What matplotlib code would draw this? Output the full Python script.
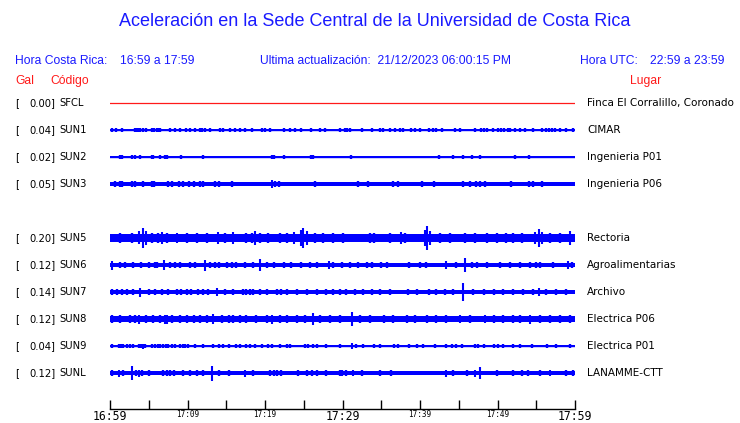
import matplotlib
matplotlib.use('Agg')
import matplotlib.pyplot as plt
import matplotlib.transforms as mtransforms

# station table
codes = ['SFCL', 'SUN1', 'SUN2', 'SUN3', 'SUN5', 'SUN6', 'SUN7', 'SUN8', 'SUN9', 'SUNL']
rows = [0, 1, 2, 3, 5, 6, 7, 8, 9, 10]
gal = [0.00, 0.04, 0.02, 0.05, 0.20, 0.12, 0.14, 0.12, 0.04, 0.12]
places = ['Finca El Corralillo, Coronado', 'CIMAR', 'Ingenieria P01', 'Ingenieria P06',
          'Rectoria', 'Agroalimentarias', 'Archivo', 'Electrica P06', 'Electrica P01',
          'LANAMME-CTT']

# trace envelope (px): continuous band half width and usual burst half height
base_amp = [0.0, 0.6, 0.6, 1.7, 3.6, 1.7, 2.0, 2.6, 0.6, 2.2]
blip_amp = [0.0, 1.7, 1.6, 2.6, 5.0, 3.0, 3.0, 3.6, 2.0, 3.0]

# minutes after 16:59 of the small bursts
blip_t = {
    'SUN1': [0.2, 0.8, 1.5, 3.2, 3.4, 3.6, 3.9, 4.2, 4.7, 5.4, 5.7, 6.0, 6.3, 6.5, 7.7, 8.4,
             9.0, 9.8, 10.3, 11.0, 11.6, 11.9, 12.3, 12.9, 14.2, 14.6, 15.5, 16.1, 16.8, 17.4,
             18.3, 19.6, 20.0, 20.7, 22.4, 23.2, 23.9, 24.7, 25.9, 27.1, 27.7, 29.7, 30.3,
             30.6, 31.0, 32.5, 33.8, 34.8, 35.2, 36.1, 36.8, 37.4, 37.8, 38.9, 39.3, 40.0,
             41.1, 41.7, 42.1, 42.8, 44.5, 45.2, 47.1, 47.9, 48.3, 48.7, 49.4, 50.1, 50.5,
             50.9, 51.3, 51.6, 52.2, 52.9, 53.5, 54.6, 55.7, 56.3, 56.7, 57.0, 57.4, 58.1,
             58.9, 59.8],
    'SUN2': [1.3, 1.6, 2.9, 3.2, 3.9, 5.4, 5.6, 6.4, 7.1, 7.3, 9.2, 12.0, 20.9, 21.2, 22.4,
             25.9, 26.2, 31.1, 42.5, 44.3, 45.6, 46.7, 47.7, 52.2, 54.0],
    'SUN3': [0.6, 1.3, 1.5, 2.9, 3.2, 4.2, 5.4, 5.7, 7.5, 8.0, 8.9, 9.4, 10.2, 10.9, 11.6,
             12.0, 13.5, 14.0, 15.7, 21.3, 21.8, 26.4, 32.0, 33.3, 36.5, 37.2, 40.3, 41.8,
             45.6, 46.5, 47.2, 47.7, 48.4, 51.8, 54.0, 54.6, 55.7],
    'SUN5': [1.3, 2.8, 5.4, 6.2, 7.3, 9.9, 11.2, 12.5, 14.8, 17.6, 18.3, 19.3, 20.4, 21.9,
             22.8, 26.4, 27.5, 28.8, 30.1, 33.5, 34.0, 36.1, 38.1, 42.6, 43.9, 45.8, 47.1,
             48.6, 49.9, 51.1, 52.0, 53.1, 56.8, 58.0],
    'SUN6': [1.3, 1.9, 3.0, 4.0, 5.0, 5.8, 6.0, 7.7, 8.4, 9.0, 10.3, 11.0, 12.9, 13.5, 14.0,
             15.1, 15.7, 16.3, 17.4, 18.5, 20.2, 21.1, 22.4, 23.3, 24.7, 25.8, 26.7, 28.8,
             29.9, 31.0, 32.0, 33.1, 33.8, 35.0, 35.7, 38.6, 40.0, 40.8, 44.7, 46.7, 47.3,
             48.6, 50.3, 51.6, 52.9, 54.2, 55.0, 55.5, 57.2, 59.6],
    'SUN7': [0.2, 0.9, 1.5, 2.2, 3.0, 5.0, 5.8, 6.7, 7.5, 8.6, 9.2, 9.9, 10.5, 11.4, 12.0,
             12.7, 14.8, 15.9, 17.2, 17.6, 18.1, 18.5, 19.4, 20.2, 21.5, 22.1, 22.8, 24.1,
             25.4, 26.7, 27.9, 28.8, 29.7, 30.5, 31.6, 32.7, 33.8, 34.8, 36.1, 38.5, 39.6,
             41.1, 42.1, 43.2, 44.3, 46.9, 48.2, 49.5, 50.7, 52.0, 53.3, 54.6, 56.3, 57.6,
             58.9],
    'SUN8': [0.2, 1.3, 2.6, 3.2, 4.7, 5.6, 6.5, 8.0, 9.0, 9.9, 10.8, 11.6, 12.5, 14.4, 15.3,
             15.9, 16.8, 17.6, 18.9, 20.2, 21.9, 22.8, 24.1, 25.2, 27.1, 28.4, 29.7, 32.2,
             33.5, 35.3, 36.5, 38.3, 39.3, 40.9, 42.1, 43.4, 46.4, 49.5, 50.7, 52.0, 52.9,
             55.5, 56.8, 58.1, 59.3],
    'SUN9': [0.2, 1.1, 1.4, 1.7, 2.2, 2.6, 3.0, 3.7, 4.0, 4.5, 5.4, 5.8, 6.2, 6.5, 6.9, 7.2,
             7.5, 8.0, 8.4, 9.0, 9.4, 9.7, 10.0, 11.0, 12.0, 13.3, 14.0, 14.6, 15.3, 16.3,
             16.8, 17.6, 18.0, 18.7, 19.6, 20.4, 20.9, 21.9, 22.8, 23.2, 25.2, 25.6, 26.2,
             26.7, 27.9, 29.7, 31.8, 32.7, 34.0, 34.8, 36.6, 37.2, 38.6, 39.6, 40.4, 41.9,
             43.4, 44.1, 44.7, 45.4, 47.1, 47.5, 48.2, 49.5, 50.1, 50.7, 52.0, 52.9, 54.4,
             56.4, 57.6, 59.3],
    'SUNL': [0.2, 1.7, 3.4, 4.1, 5.0, 6.9, 7.3, 7.7, 8.3, 9.4, 10.3, 11.2, 12.0, 14.0, 15.3,
             18.5, 20.6, 21.1, 21.5, 22.1, 24.3, 25.4, 26.0, 26.7, 27.9, 29.7, 29.9, 30.5,
             32.5, 34.8, 36.3, 44.3, 46.0, 49.9, 52.0, 53.1, 53.9, 55.5, 58.9, 59.8],
}

# larger events: minute and half height (px)
peak_t = {
    'SUN1': [11.9],
    'SUN2': [],
    'SUN3': [20.9],
    'SUN5': [3.7, 4.3, 4.7, 6.7, 8.7, 13.9, 15.9, 18.7, 23.8, 24.6, 24.9, 25.4, 37.6, 40.6,
             40.9, 41.3, 54.8, 55.3, 55.7, 59.3],
    'SUN6': [0.2, 7.0, 12.2, 19.4, 28.3, 43.4, 45.8, 59.1],
    'SUN7': [3.9, 13.8, 45.6, 55.3],
    'SUN8': [3.8, 7.1, 7.3, 13.3, 20.9, 26.2, 31.2, 45.2, 48.4, 54.2],
    'SUN9': [4.2, 31.2],
    'SUNL': [1.1, 2.9, 3.8, 13.2, 17.4, 31.3, 43.4, 47.1, 47.8, 56.8],
}
peak_a = {
    'SUN1': [2.3],
    'SUN2': [],
    'SUN3': [4.0],
    'SUN5': [6.5, 9.5, 7.0, 6.0, 5.5, 6.0, 6.0, 7.0, 6.0, 8.0, 9.5, 7.0, 6.0, 8.0,
             12.3, 7.0, 6.0, 8.7, 6.0, 7.0],
    'SUN6': [4.5, 5.0, 5.5, 6.0, 4.0, 4.0, 7.0, 4.0],
    'SUN7': [4.5, 4.0, 8.7, 4.0],
    'SUN8': [4.5, 4.5, 4.5, 5.0, 4.5, 6.0, 7.0, 4.0, 4.0, 4.5],
    'SUN9': [2.5, 3.0],
    'SUNL': [3.5, 7.0, 3.5, 7.5, 3.5, 3.0, 3.5, 3.5, 6.0, 3.0],
}

hdr_blue = '#1a1aff'
trace_blue = '#0000ff'
red = '#ff1a1a'

fig = plt.figure(figsize=(7.4, 4.23), dpi=100)
W, H = 740., 423.
PX = 27.  # pixels per row

ax = fig.add_axes([110 / W, 1 - 386.5 / H, 465 / W, 297 / H])
ax.set_xlim(0, 60)
ax.set_ylim(10.5, -0.5)
ax.axis('off')

for code, r, b, bl in zip(codes, rows, base_amp, blip_amp):
    if code == 'SFCL':
        ax.plot([0, 60], [r, r], color=red, lw=0.9)
        continue
    ax.fill_between([0, 60], r - b / PX, r + b / PX, color=trace_blue, lw=0)
    ax.plot([0, 60], [r, r], color=trace_blue, lw=1.0)
    ax.vlines(blip_t[code], r - bl / PX, r + bl / PX, color=trace_blue, lw=1.7)
    pt = peak_t.get(code, [])
    pa = [a / PX for a in peak_a.get(code, [])]
    if pt:
        ax.vlines(pt, [r - a for a in pa], [r + a for a in pa], color=trace_blue, lw=1.5)

# station labels
tr = mtransforms.blended_transform_factory(fig.transFigure, ax.transData)
for code, r, g, p in zip(codes, rows, gal, places):
    ax.text(15 / W, r, '[', transform=tr, fontsize=7.2, va='center', ha='left',
            family='DejaVu Sans')
    ax.text(55.5 / W, r, '%.2f]' % g, transform=tr, fontsize=7.2, va='center', ha='right',
            family='DejaVu Sans')
    ax.text(59 / W, r, code, transform=tr, fontsize=7.2, va='center', ha='left',
            family='DejaVu Sans')
    ax.text(587 / W, r, p, transform=tr, fontsize=7.5, va='center', ha='left',
            family='DejaVu Sans')

# header
hfont = 'Liberation Sans'
fig.text(375 / W, 1 - 22 / H, 'Aceleración en la Sede Central de la Universidad de Costa Rica',
         ha='center', va='center', color=hdr_blue, fontsize=13, family=hfont)
fig.text(15 / W, 1 - 61 / H, 'Hora Costa Rica:', ha='left', va='center', color=hdr_blue,
         fontsize=8.7, family=hfont)
fig.text(120.5 / W, 1 - 61 / H, '16:59 a 17:59', ha='left', va='center', color=hdr_blue,
         fontsize=8.7, family=hfont)
fig.text(260 / W, 1 - 61 / H, 'Ultima actualización:  21/12/2023 06:00:15 PM', ha='left',
         va='center', color=hdr_blue, fontsize=8.7, family=hfont)
fig.text(580 / W, 1 - 61 / H, 'Hora UTC:', ha='left', va='center', color=hdr_blue,
         fontsize=8.7, family=hfont)
fig.text(650 / W, 1 - 61 / H, '22:59 a 23:59', ha='left', va='center', color=hdr_blue,
         fontsize=8.7, family=hfont)
fig.text(15 / W, 1 - 81 / H, 'Gal', ha='left', va='center', color=red, fontsize=8.7,
         family=hfont)
fig.text(50 / W, 1 - 81 / H, 'Código', ha='left', va='center', color=red, fontsize=8.7,
         family=hfont)
fig.text(630 / W, 1 - 81 / H, 'Lugar', ha='left', va='center', color=red, fontsize=8.7,
         family=hfont)

# time axis
tick_min = [0, 10, 20, 30, 40, 50, 60]
tick_lab = ['16:59', '17:09', '17:19', '17:29', '17:39', '17:49', '17:59']
big = ['16:59', '17:29', '17:59']

tax = fig.add_axes([110 / W, 1 - 409 / H, 465 / W, 5 / H])
tax.set_xlim(0, 60)
tax.set_yticks([])
for s in ['top', 'left', 'right']:
    tax.spines[s].set_visible(False)
tax.spines['bottom'].set_linewidth(1.0)
tax.patch.set_alpha(0)
tax.set_xticks(tick_min)
tax.set_xticklabels(tick_lab, family='DejaVu Sans Mono')
tax.set_xticks([5, 15, 25, 35, 45, 55], minor=True)
tax.tick_params(axis='x', which='both', direction='in', length=6.5, width=1.0,
                pad=1.0, color='black')
for lab in tax.get_xticklabels():
    if lab.get_text() in big:
        lab.set_fontsize(8.3)
    else:
        lab.set_fontsize(5.5)

fig.savefig('out.png', dpi=100)
